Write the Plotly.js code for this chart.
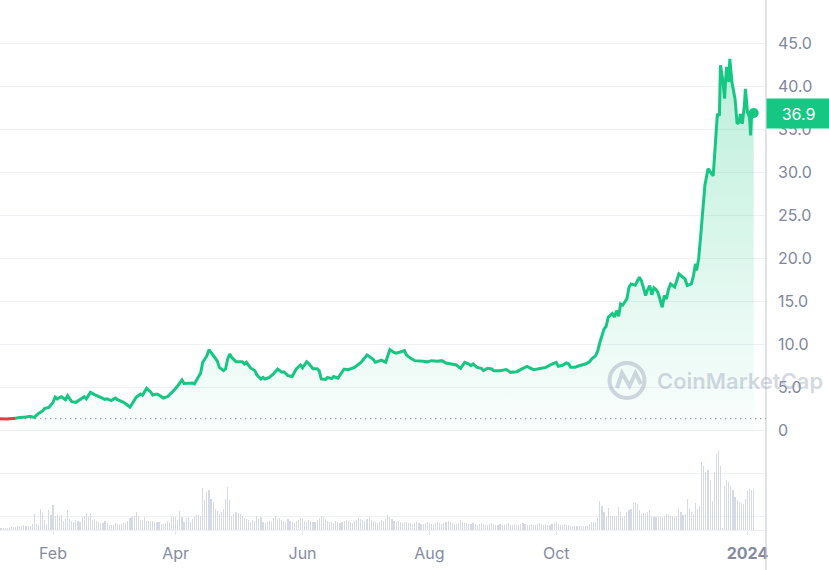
<!DOCTYPE html>
<html>
<head>
<meta charset="utf-8">
<script src="https://cdn.plot.ly/plotly-3.0.1.min.js"></script>
<style>
  html, body { margin: 0; padding: 0; background: #ffffff; }
  #chart { width: 829px; height: 570px; }
</style>
</head>
<body>
<div id="chart"></div>
<script>
// ---------- DATA ----------
// Day offsets counted from 2023-01-01 (0 = Jan 1 2023, 365 = Jan 1 2024)
const baseDate = '2023-01-01';
const priceDays = [
  3, 6, 9, 13, 15, 18, 20, 22, 24, 26, 27, 29, 31, 32, 33, 35, 37, 38, 40, 42,
  43, 45, 46, 47, 49, 51, 53, 56, 57, 59, 61, 62, 65, 67, 68, 69, 71, 73, 74, 76,
  78, 79, 81, 82, 84, 86, 87, 89, 91, 93, 94, 96, 98, 99, 101, 102, 103, 105, 106, 108,
  110, 111, 113, 114, 115, 116, 117, 119, 122, 123, 124, 126, 128, 129, 131, 132, 133, 135, 137, 139,
  141, 142, 144, 146, 148, 150, 151, 153, 154, 156, 158, 159, 160, 162, 163, 165, 166, 168, 170, 171,
  173, 174, 176, 177, 179, 182, 183, 185, 186, 188, 189, 191, 193, 195, 196, 198, 200, 201, 203, 205,
  207, 209, 211, 213, 216, 218, 220, 223, 225, 227, 229, 231, 232, 233, 235, 237, 238, 240, 242, 243,
  246, 249, 251, 254, 256, 257, 259, 261, 262, 264, 266, 268, 271, 273, 274, 276, 278, 279, 280, 282,
  284, 285, 287, 289, 290, 292, 293, 294, 296, 297, 298, 300, 301, 302, 303, 304, 305, 307, 308, 309,
  311, 313, 314, 315, 316, 317, 318, 319, 320, 321, 322, 324, 325, 326, 327, 328, 330, 332, 333, 335,
  336, 338, 339, 340, 340.5, 341.5, 342.5, 343.5, 344.5, 346, 347.5, 348.5, 349.5, 350.5, 351.5, 352, 353, 354, 354.5, 355,
  356, 356.5, 357.5, 358.5, 359, 360, 361, 361.5, 362.5, 363.5, 364, 365, 366, 366.5, 367, 368
];
const prices = [
  1.40, 1.36, 1.37, 1.45, 1.55, 1.59, 1.67, 1.55, 2.0, 2.3, 2.6, 2.7, 3.3, 3.9, 3.7, 3.95, 3.6, 4.07, 3.37, 3.3,
  3.45, 3.7, 3.95, 3.7, 4.46, 4.2, 4.0, 3.65, 3.7, 3.5, 3.8, 3.6, 3.3, 2.9, 2.75, 3.1, 3.88, 4.26, 4.1, 4.92,
  4.5, 4.15, 4.25, 4.15, 3.8, 3.95, 4.15, 4.65, 5.23, 5.89, 5.5, 5.55, 5.55, 5.45, 6.4, 6.7, 7.95, 8.7, 9.42, 8.72,
  8.1, 7.36, 6.98, 7.2, 8.33, 8.91, 8.5, 8.02, 8.02, 7.75, 7.95, 7.29, 7.0, 6.5, 6.01, 6.2, 6.0, 6.2, 6.59, 7.17,
  6.8, 6.85, 6.4, 6.3, 7.17, 7.64, 7.3, 8.02, 7.8, 7.2, 7.2, 7.0, 6.01, 5.95, 6.2, 6.05, 6.3, 6.1, 6.78, 7.17,
  7.1, 7.17, 7.36, 7.55, 7.9, 8.8, 8.6, 8.3, 7.95, 8.15, 8.2, 7.95, 9.42, 9.1, 9.0, 9.15, 9.3, 8.8, 8.41, 8.14,
  8.14, 8.06, 8.0, 8.14, 8.06, 8.14, 7.87, 7.75, 7.64, 7.25, 7.95, 7.75, 7.56, 7.75, 7.36, 7.25, 6.98, 7.25, 7.17, 6.98,
  6.98, 7.1, 6.78, 6.86, 7.17, 7.25, 7.48, 7.25, 7.1, 7.17, 7.25, 7.36, 7.75, 7.95, 7.48, 7.6, 7.87, 7.75, 7.36, 7.36,
  7.55, 7.6, 7.75, 8.0, 8.33, 8.72, 9.3, 10.27, 11.82, 12.1, 13.18, 13.6, 13.2, 13.95, 13.3, 14.73, 14.6, 15.31, 16.67, 17.05,
  16.9, 17.83, 17.4, 16.6, 15.7, 16.4, 16.86, 15.8, 16.6, 16.4, 16.0, 14.34, 15.7, 15.3, 16.4, 17.05, 16.7, 18.22, 18.0, 17.6,
  16.86, 17.05, 18.0, 19.38, 18.6, 19.96, 22.67, 25.4, 28.5, 30.43, 29.9, 29.6, 33.14, 36.8, 36.6, 42.44, 40.9, 38.57, 40.9, 42.25,
  40.5, 43.2, 40.5, 39.3, 38.57, 35.66, 35.85, 36.8, 35.66, 37.8, 39.7, 37.0, 36.4, 34.3, 36.8, 36.9
];

// Daily traded volume (relative units), one bar per day starting at day 3 (2023-01-04)
const volumeStartDay = 3;
const volumes = [
  2, 2, 2, 2, 2, 2, 2, 2, 3, 3,
  3, 4, 4, 4, 5, 4, 4, 4, 6, 16,
  6, 5, 21, 17, 10, 6, 20, 15, 25, 14,
  15, 14, 15, 9, 11, 20, 11, 9, 8, 10,
  9, 8, 13, 14, 17, 13, 17, 10, 11, 9,
  8, 7, 7, 9, 7, 5, 5, 5, 7, 6,
  5, 6, 7, 7, 9, 12, 13, 14, 18, 14,
  10, 10, 13, 9, 9, 9, 9, 8, 8, 8,
  6, 6, 7, 9, 8, 14, 13, 13, 10, 19,
  13, 8, 12, 13, 8, 11, 14, 15, 15, 14,
  42, 30, 38, 40, 31, 28, 21, 19, 16, 18,
  21, 31, 43, 30, 14, 16, 18, 17, 16, 14,
  12, 11, 10, 8, 10, 9, 14, 11, 13, 8,
  7, 8, 9, 8, 12, 14, 11, 12, 10, 9,
  8, 11, 9, 8, 7, 9, 10, 12, 11, 9,
  8, 10, 9, 8, 8, 10, 12, 14, 13, 11,
  9, 8, 8, 7, 9, 8, 7, 8, 9, 10,
  9, 8, 7, 9, 10, 12, 11, 10, 9, 11,
  13, 10, 9, 8, 7, 8, 10, 9, 11, 15,
  13, 11, 9, 8, 9, 8, 7, 8, 8, 7,
  7, 6, 7, 8, 7, 6, 6, 7, 8, 7,
  6, 6, 7, 8, 7, 6, 7, 8, 9, 8,
  7, 6, 6, 7, 10, 8, 7, 7, 6, 6,
  7, 6, 5, 6, 7, 6, 5, 5, 6, 7,
  6, 5, 5, 6, 5, 5, 6, 7, 5, 5,
  6, 5, 5, 6, 7, 6, 5, 5, 6, 5,
  5, 6, 7, 6, 5, 6, 5, 5, 6, 7,
  8, 6, 5, 5, 6, 5, 5, 4, 4, 4,
  4, 4, 4, 4, 4, 4, 6, 8, 8, 8,
  12, 29, 24, 18, 13, 22, 14, 14, 14, 14,
  23, 18, 13, 14, 18, 20, 21, 27, 27, 26,
  20, 16, 17, 16, 18, 20, 14, 13, 13, 13,
  13, 12, 14, 16, 15, 14, 14, 13, 14, 22,
  18, 15, 16, 31, 21, 18, 16, 27, 21, 24,
  68, 64, 58, 60, 50, 29, 58, 76, 79, 64,
  2, 44, 50, 48, 44, 40, 33, 30, 28, 27,
  26, 31, 39, 41, 40, 41
];

// Axis ticks
const xTickDates = ['2023-02-01', '2023-04-01', '2023-06-01', '2023-08-01', '2023-10-01', '2024-01-01'];
const xTickLabels = ['Feb', 'Apr', 'Jun', 'Aug', 'Oct', '<b>2024</b>'];
const yTickValues = [-10, -5, 0, 5, 10, 15, 20, 25, 30, 35, 40, 45];
const yTickLabels = ['', '', '0', '5.0', '10.0', '15.0', '20.0', '25.0', '30.0', '35.0', '40.0', '45.0'];

// ---------- BUILD ----------
const BASE_MS = Date.parse(baseDate + 'T00:00:00Z');
function dayToDate(d) {
  return new Date(BASE_MS + d * 86400000).toISOString().slice(0, 19).replace('T', ' ');
}
const priceDates = priceDays.map(dayToDate);
const volumeDates = volumes.map((v, i) => dayToDate(volumeStartDay + i));

const baseline = prices[0];
let split = prices.findIndex(p => p > baseline);
if (split < 1) split = 1;

const GREEN = '#16c784';
const RED = '#ea3943';
const lastIdx = prices.length - 1;

const traces = [
  {
    type: 'bar', x: volumeDates, y: volumes, yaxis: 'y2',
    marker: { color: '#d6dae4', line: { width: 0 } },
    width: 0.55 * 86400000, hoverinfo: 'skip'
  },
  {
    type: 'scatter', mode: 'lines',
    x: priceDates.slice(split), y: prices.slice(split),
    line: { color: GREEN, width: 3 },
    fill: 'tozeroy',
    fillgradient: {
      type: 'vertical', start: 0, stop: 45,
      colorscale: [[0, 'rgba(22,199,132,0.02)'], [1, 'rgba(22,199,132,0.30)']]
    },
    hoverinfo: 'skip'
  },
  {
    type: 'scatter', mode: 'lines',
    x: priceDates.slice(0, split + 1), y: prices.slice(0, split + 1),
    line: { color: RED, width: 3 }, hoverinfo: 'skip'
  },
  {
    type: 'scatter', mode: 'markers',
    x: [priceDates[lastIdx]], y: [prices[lastIdx]],
    marker: { color: GREEN, size: 10 }, hoverinfo: 'skip'
  }
];

const WM = 'rgba(150,160,182,0.42)';
const px = v => v / 766;          // helper for watermark placement (paper x)
const py = v => (530 - v) / 530;  // helper for watermark placement (paper y)

const layout = {
  width: 829, height: 570,
  margin: { l: 0, r: 63, t: 0, b: 40 },
  paper_bgcolor: '#ffffff', plot_bgcolor: '#ffffff',
  showlegend: false,
  font: { family: 'Inter, "Open Sans", sans-serif', color: '#858ca2' },
  xaxis: {
    type: 'date',
    range: [dayToDate(5.5), dayToDate(373.9)],
    tickvals: xTickDates, ticktext: xTickLabels,
    tickfont: { size: 16, color: '#858ca2' },
    ticks: 'outside', ticklen: 4, tickcolor: '#e6e8ee',
    ticklabelstandoff: 5,
    showgrid: false, zeroline: false,
    showline: true, linecolor: '#eef0f4', linewidth: 1
  },
  yaxis: {
    side: 'right',
    range: [-11.53, 50.03],
    tickvals: yTickValues, ticktext: yTickLabels,
    tickfont: { size: 16, color: '#80889c' },
    ticks: '', ticklabelstandoff: 11,
    showgrid: true, gridcolor: '#eff1f5', gridwidth: 1,
    zeroline: false, showline: false
  },
  yaxis2: {
    overlaying: 'y', range: [0, 530], visible: false, fixedrange: true
  },
  bargap: 0,
  shapes: [
    // start-price dotted reference line
    { type: 'line', xref: 'paper', x0: 0, x1: 1, yref: 'y', y0: baseline, y1: baseline,
      line: { color: '#9aa1b2', width: 1.3, dash: '1.3px,3.7px' }, layer: 'below' },
    // right axis line, extending to the bottom of the figure
    { type: 'line', xref: 'paper', x0: 1, x1: 1, yref: 'paper', y0: -40 / 530, y1: 1,
      line: { color: '#c2c6cf', width: 1 } },
    // watermark logo ring
    { type: 'circle', xref: 'paper', yref: 'paper',
      x0: px(609.5), x1: px(644.5), y0: py(398), y1: py(363),
      line: { color: WM, width: 4 } },
    // watermark logo "m" wave
    { type: 'path', xref: 'paper', yref: 'paper',
      path: 'M ' + px(617) + ' ' + py(388) + ' L ' + px(622) + ' ' + py(373) +
            ' L ' + px(629.5) + ' ' + py(386) + ' L ' + px(635.5) + ' ' + py(373) +
            ' L ' + px(641) + ' ' + py(384),
      line: { color: WM, width: 4 } }
  ],
  annotations: [
    { xref: 'paper', yref: 'paper', x: px(655), y: py(381), xanchor: 'left', yanchor: 'middle',
      text: 'CoinMarketCap', showarrow: false,
      font: { family: 'Inter, sans-serif', size: 22, weight: 600, color: WM } },
    { xref: 'paper', yref: 'y', x: 1, y: prices[lastIdx], xanchor: 'left', yanchor: 'middle',
      text: prices[lastIdx].toFixed(1), showarrow: false,
      bgcolor: GREEN, borderpad: 0, width: 63, height: 29, align: 'center',
      font: { family: 'Inter, sans-serif', size: 16, color: '#ffffff' } }
  ]
};

Plotly.newPlot('chart', traces, layout, { displayModeBar: false, staticPlot: true });
</script>
</body>
</html>
